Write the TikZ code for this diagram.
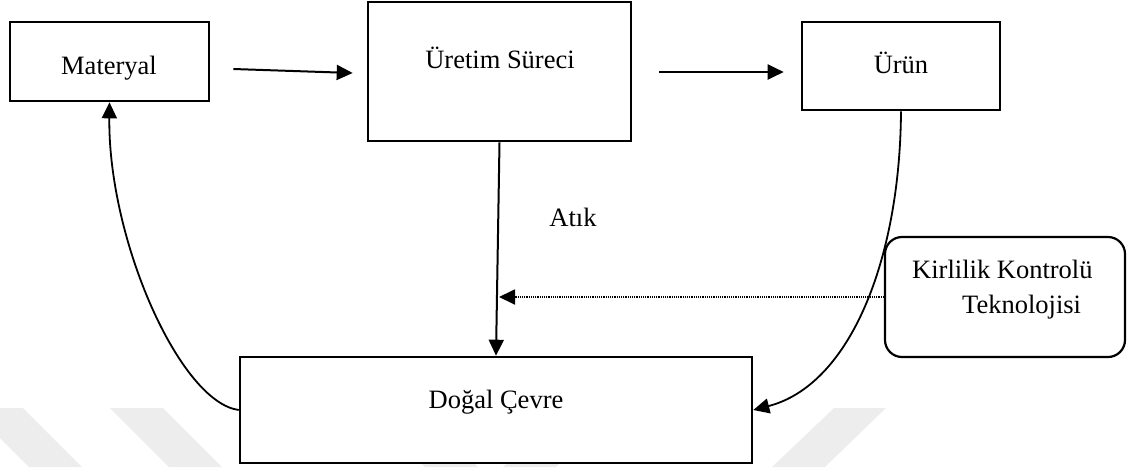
\documentclass[tikz,border=0pt]{standalone}
\usepackage{fontspec}
\setmainfont{Liberation Serif}
\usetikzlibrary{arrows.meta}

\begin{document}
\begin{tikzpicture}[x=1pt, y=-1pt,
  box/.style={draw, line width=2.6pt, fill=white, inner sep=0pt},
  softbox/.style={box, line width=2.2pt, rounded corners=17pt},
  txt/.style={font=\fontsize{26.5pt}{32pt}\selectfont, inner sep=0pt},
  tip/.style={-{Triangle[length=16pt, width=15pt]}},
  arr/.style={line width=2pt, tip},
  curvearr/.style={line width=1.8pt, tip},
  dotarr/.style={line width=1.8pt, dash pattern=on 1.2pt off 1pt, tip},
  stripe/.style={fill=black!7, draw=none}]

\useasboundingbox (0,0) rectangle (1128,467);

% faint diagonal bands along the lower edge
\begin{scope}
  \clip (0,0) rectangle (1128,467);
  \fill[stripe] (-30,408) -- (23,408) -- (82,467) -- (29,467) -- cycle;
  \fill[stripe] (110,408) -- (163,408) -- (222,467) -- (169,467) -- cycle;
  \fill[stripe] (366,408) -- (419,408) -- (478,467) -- (425,467) -- cycle;
  \fill[stripe] (562,408) -- (615,408) -- (556,467) -- (503,467) -- cycle;
  \fill[stripe] (834,408) -- (886,408) -- (825,467) -- (772,467) -- cycle;
\end{scope}

% boxes
\node[box, minimum width=199pt, minimum height=79pt]  (mat)  at (109.5,61.5) {};
\node[box, minimum width=263pt, minimum height=139pt] (ure)  at (499.5,71.5) {};
\node[box, minimum width=198pt, minimum height=88pt]  (urun) at (901,66) {};
\node[box, minimum width=512pt, minimum height=106pt] (dog)  at (496,410) {};
\node[softbox, minimum width=240pt, minimum height=120pt] (kir) at (1005,297) {};

% box texts, placed by baseline
\node[txt, anchor=base] (matT)  at (109,74)  {Materyal};
\node[txt, anchor=base] (ureT)  at (500,68)  {Üretim Süreci};
\node[txt, anchor=base] (urunT) at (901,73)  {Ürün};
\node[txt, anchor=base] (dogT)  at (496,408) {Doğal Çevre};
\node[txt, anchor=base west] (kirT1) at (912,278) {Kirlilik Kontrolü};
\node[txt, anchor=base west] (kirT2) at (962,313) {Teknolojisi};
\node[txt, anchor=base] (atik) at (573,226) {Atık};

% flow arrows
\draw[arr] ([xshift=23pt, yshift=-7.5pt]mat.east) -- ([xshift=-14pt, yshift=-1.5pt]ure.west);
\draw[arr] ([xshift=27pt, yshift=-0.5pt]ure.east) -- ([xshift=-17pt, yshift=-6pt]urun.west);
\draw[arr] (ure.south) -- (dog.north);

% return loops
\draw[curvearr] (dog.west) .. controls (180,402) and (108,240) .. (mat.south);
\draw[curvearr] (urun.south) .. controls (900,260) and (850,385) .. (dog.east);

% pollution control feed
\draw[dotarr] (kir.west) -- ([xshift=3pt]kir.west -| dog.north);

\end{tikzpicture}
\end{document}
